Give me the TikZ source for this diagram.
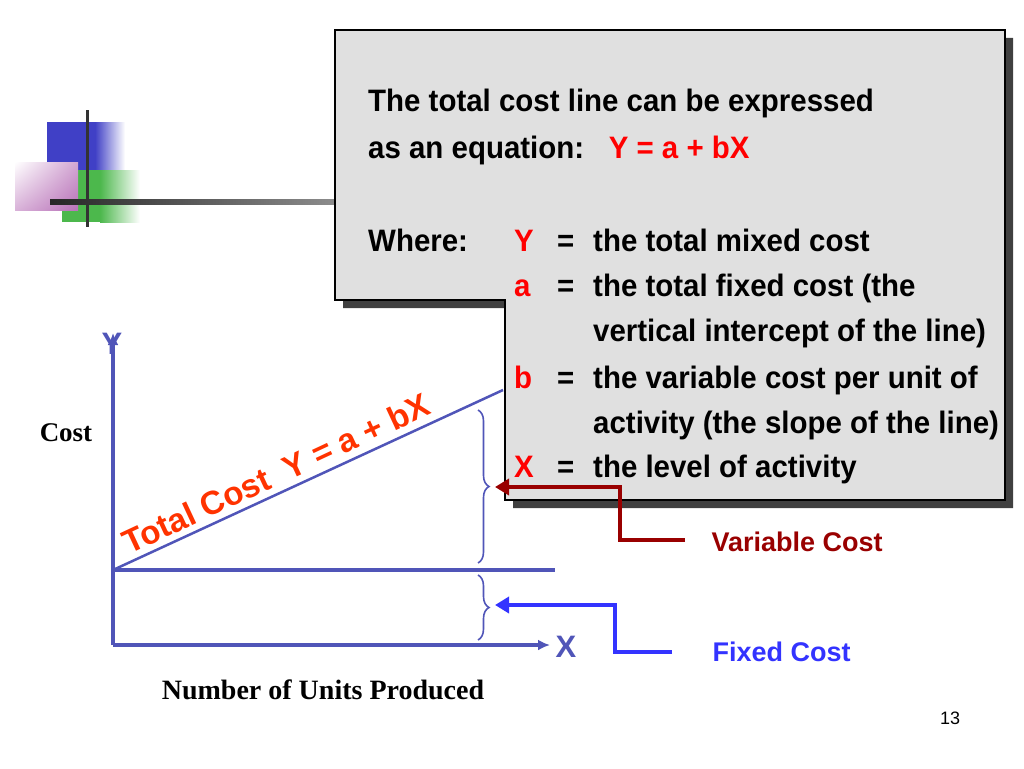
\documentclass[tikz,border=0pt]{standalone}
\usepackage{fontspec}
\setmainfont{Liberation Serif}
\newfontfamily\nar[FakeStretch=0.95]{Liberation Sans}
\newfontfamily\ar{Liberation Sans}
\usetikzlibrary{decorations.pathreplacing,arrows.meta,shadings}
\definecolor{axb}{HTML}{5055B8}
\definecolor{dred}{HTML}{990000}
\definecolor{fblue}{HTML}{3333FF}
\definecolor{ored}{HTML}{FF3300}
\begin{document}
\begin{tikzpicture}[x=1pt,y=-1pt,
  ax/.style={axb,line width=4pt},
  br/.style={axb,line width=1.6pt,decorate,decoration={brace,amplitude=11pt}},
  bt/.style={font=\nar\bfseries\fontsize{31}{31}\selectfont,anchor=base west,inner sep=0},
  rd/.style={red}]
\useasboundingbox (0,0) rectangle (1024,768);
% decoration
\fill[blue!70!black!75] (47,122) rectangle (95,198);
\shade[left color=blue!70!black!75,right color=white] (95,122) rectangle (125,198);
\shade[left color=green!60!black!70, right color=white] (100,170) rectangle (140,222);
\fill[green!60!black!70] (62,170) rectangle (100,222);
\shade[upper left=white,lower right=violet!55,upper right=violet!35,lower left=violet!30] (15,162) rectangle (78,210);
\draw[line width=3pt,black!80] (87,110) -- (87,227);
\shade[left color=black!85,right color=black!45] (50,199) rectangle (335,204);
% box
\fill[black!75] (343,38) -- (1013,38) -- (1013,508) -- (513,508) -- (513,308) -- (343,308) -- cycle;
\filldraw[fill=black!12,draw=black,line width=1.5pt] (335,30) -- (1005,30) -- (1005,500) -- (505,500) -- (505,300) -- (335,300) -- cycle;
\node[bt] (l1) at (368,111) {The total cost line can be expressed};
\node[bt] (l2) at (368,158) {as an equation:\ \ \ \textcolor{red}{Y = a + bX}};
\node[bt] (w) at (368,251) {Where:};
\foreach \v/\t/\yy/\n in {Y/the total mixed cost/251/r1,a/the total fixed cost (the/296/r2,/vertical intercept of the line)/341/r3,b/the variable cost per unit of/388/r4,/activity (the slope of the line)/433/r5,X/the level of activity/477/r6}{
  \node[bt,red] (v\n) at (514,\yy) {\v};
  \node[bt] (t\n) at (593,\yy) {\t};
}
\foreach \yy/\n in {251/e1,296/e2,388/e4,477/e6} \node[bt] (\n) at (557,\yy) {=};
% axes
\coordinate (O) at (113,645);
\draw[ax,-{Latex[length=12pt,width=11pt]}] (O) -- (113,333) coordinate (yt);
\draw[ax,-{Latex[length=12pt,width=11pt]}] (O) -- (550,645) coordinate (xt);
\draw[ax] (113,570) coordinate (F) -- (555,570);
\draw[axb,line width=2.5pt] (F) -- (503,390);
\node[axb,font=\ar\bfseries\fontsize{31}{31}\selectfont] (Y) at (112,344) {Y};
\node[axb,font=\ar\bfseries\fontsize{31}{31}\selectfont] (X) at (566,647) {X};
\node[ored,font=\ar\bfseries\fontsize{33}{33}\selectfont,rotate=25,anchor=base west,inner sep=0] (tc) at (129,555) {Total Cost\ \ Y = a + bX};
\draw[br] (478,410) -- (478,563);
\draw[br] (478,575) -- (478,640);
% connectors
\coordinate (vs) at (685,540); \coordinate (fs) at (672,652);
\draw[dred,line width=4pt,-{Triangle[length=14pt,width=16pt]}] (vs) -- (620,540) -- (620,487) -- (495,487);
\draw[fblue,line width=4pt,-{Triangle[length=14pt,width=16pt]}] (fs) -- (615,652) -- (615,605) -- (495,605);
\node[dred,font=\ar\bfseries\fontsize{27}{27}\selectfont,anchor=west] (vc) at (708,542) {Variable Cost};
\node[fblue,font=\ar\bfseries\fontsize{27}{27}\selectfont,anchor=west] (fc) at (709,652) {Fixed Cost};
\node[font=\bfseries\fontsize{27}{27}\selectfont] (cost) at (66,433) {Cost};
\node[font=\bfseries\fontsize{28}{28}\selectfont] (nu) at (323,690) {Number of Units Produced};
\node[font=\ar\fontsize{18}{18}\selectfont] (pg) at (950,718) {13};
\end{tikzpicture}
\end{document}
